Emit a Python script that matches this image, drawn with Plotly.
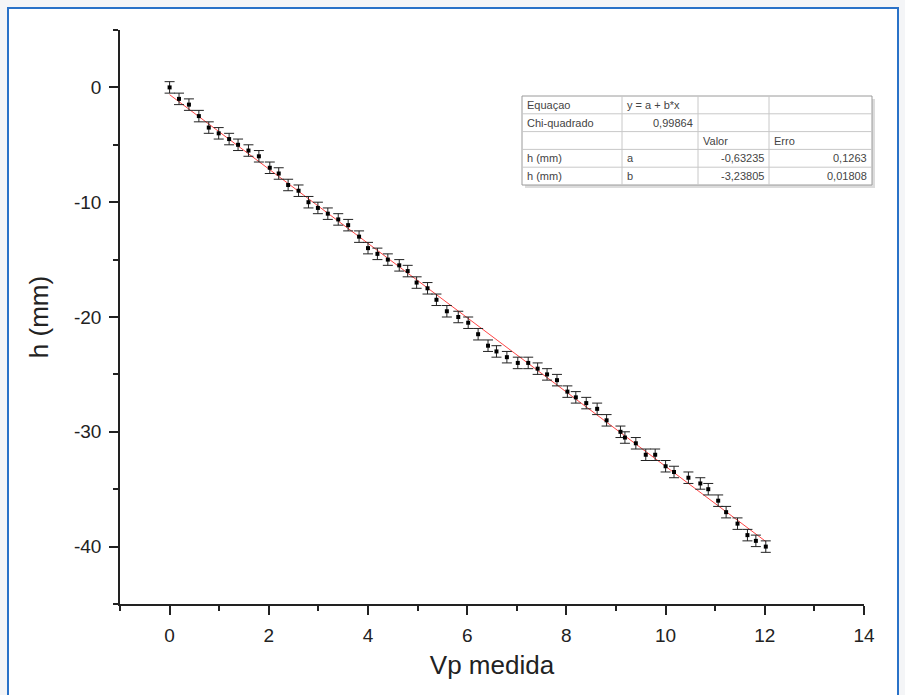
import plotly.graph_objects as go

# ---- data ----
vp_medida = [0, 0.19, 0.39, 0.59, 0.79, 0.99, 1.2, 1.38, 1.59, 1.8, 2.02, 2.2, 2.39, 2.6, 2.8,
             2.99, 3.19, 3.4, 3.6, 3.82, 4.0, 4.19, 4.4, 4.63, 4.8, 4.98, 5.2, 5.38, 5.59, 5.82,
             6.02, 6.22, 6.42, 6.59, 6.8, 7.02, 7.23, 7.42, 7.61, 7.81, 8.02, 8.19, 8.4, 8.62,
             8.81, 9.09, 9.18, 9.4, 9.6, 9.79, 10.0, 10.17, 10.46, 10.7, 10.86, 11.06, 11.22,
             11.45, 11.65, 11.82, 12.02]
h_mm = [0, -1, -1.5, -2.5, -3.5, -4, -4.5, -5, -5.5, -6, -7, -7.5, -8.5, -9, -10, -10.5, -11,
        -11.5, -12, -13, -14, -14.5, -15, -15.5, -16, -17, -17.5, -18.5, -19.5, -20, -20.5,
        -21.5, -22.5, -23, -23.5, -24, -24, -24.5, -25, -25.5, -26.5, -27, -27.5, -28, -29,
        -30, -30.5, -31, -32, -32, -33, -33.5, -34, -34.5, -35, -36, -37, -38, -39, -39.5, -40]
h_err = [0.5] * len(h_mm)

fit_a = -0.63235
fit_b = -3.23805
fit_x = [min(vp_medida), max(vp_medida)]
fit_y = [fit_a + fit_b * v for v in fit_x]

x_tick_vals = [0, 2, 4, 6, 8, 10, 12, 14]
x_tick_text = ["0", "2", "4", "6", "8", "10", "12", "14"]
y_tick_vals = [0, -10, -20, -30, -40]
y_tick_text = ["0", "-10", "-20", "-30", "-40"]

table_rows = [
    ["Equaçao", "y = a + b*x", "", ""],
    ["Chi-quadrado", "0,99864", "", ""],
    ["", "", "Valor", "Erro"],
    ["h (mm)", "a", "-0,63235", "0,1263"],
    ["h (mm)", "b", "-3,23805", "0,01808"],
]
table_align = [
    ["left", "left", "left", "left"],
    ["left", "right", "left", "left"],
    ["left", "left", "left", "left"],
    ["left", "left", "right", "right"],
    ["left", "left", "right", "right"],
]

FONT = "Liberation Sans, Arial, sans-serif"
W, H = 905, 695
ML, MR, MT, MB = 120, 41, 30, 91
PW, PH = W - ML - MR, H - MT - MB


def px(xp):
    return (xp - ML) / PW


def py(yp):
    return (H - MB - yp) / PH


fig = go.Figure()
fig.add_trace(go.Scatter(
    x=fit_x, y=fit_y, mode="lines",
    line=dict(color="rgb(255,70,70)", width=1), showlegend=False, hoverinfo="skip"))
fig.add_trace(go.Scatter(
    x=vp_medida, y=h_mm, mode="markers",
    marker=dict(symbol="square", size=4, color="black"),
    error_y=dict(type="data", array=h_err, visible=True, color="#222", thickness=1, width=5),
    showlegend=False))

shapes = []
annotations = []
# outer blue frame + white page
shapes.append(dict(type="rect", xref="paper", yref="paper",
                   x0=px(8), x1=px(898), y0=py(720), y1=py(8),
                   line=dict(color="#2a72c8", width=2), fillcolor="white", layer="below"))

# table
cols = [522, 622, 698, 769, 872]
rows = [96, 113.8, 131.6, 149.4, 167.2, 185]
shapes.append(dict(type="rect", xref="paper", yref="paper",
                   x0=px(cols[0] + 3), x1=px(cols[-1] + 3), y0=py(rows[-1] + 3), y1=py(rows[0] + 3),
                   line=dict(width=0), fillcolor="#dcdcdc"))
shapes.append(dict(type="rect", xref="paper", yref="paper",
                   x0=px(cols[0]), x1=px(cols[-1]), y0=py(rows[-1]), y1=py(rows[0]),
                   line=dict(color="#9a9a9a", width=1), fillcolor="white"))
for c in cols[1:-1]:
    shapes.append(dict(type="line", xref="paper", yref="paper",
                       x0=px(c), x1=px(c), y0=py(rows[0]), y1=py(rows[-1]),
                       line=dict(color="#c8c8c8", width=1)))
for r in rows[1:-1]:
    shapes.append(dict(type="line", xref="paper", yref="paper",
                       x0=px(cols[0]), x1=px(cols[-1]), y0=py(r), y1=py(r),
                       line=dict(color="#c8c8c8", width=1)))
for i, row in enumerate(table_rows):
    yc = (rows[i] + rows[i + 1]) / 2
    for j, txt in enumerate(row):
        if not txt:
            continue
        al = table_align[i][j]
        if al == "left":
            xa, anc = cols[j] + 3, "left"
        else:
            xa, anc = cols[j + 1] - 3, "right"
        annotations.append(dict(xref="paper", yref="paper", x=px(xa), y=py(yc),
                                text=txt, showarrow=False, xanchor=anc, yanchor="middle",
                                font=dict(family=FONT, size=11, color="#444444")))

AX = "#222222"
fig.update_layout(
    width=W, height=H,
    margin=dict(l=ML, r=MR, t=MT, b=MB),
    paper_bgcolor="#f4f5f7", plot_bgcolor="rgba(0,0,0,0)",
    shapes=shapes, annotations=annotations,
    font=dict(family=FONT, color="black"),
    xaxis=dict(range=[-1, 14], tickvals=x_tick_vals, ticktext=x_tick_text,
               showgrid=False, zeroline=False,
               showline=True, linecolor=AX, linewidth=1.5,
               ticks="outside", ticklen=9, tickwidth=1.5, tickcolor=AX,
               ticklabelstandoff=4,
               minor=dict(dtick=1, tick0=0, ticks="outside", ticklen=5, tickwidth=1.5,
                          tickcolor=AX, showgrid=False),
               tickfont=dict(size=19, family=FONT, color=AX),
               title=dict(text="Vp medida", font=dict(size=26, family=FONT, color=AX),
                          standoff=11)),
    yaxis=dict(range=[-45, 5], tickvals=y_tick_vals, ticktext=y_tick_text,
               showgrid=False, zeroline=False,
               showline=True, linecolor=AX, linewidth=1.5,
               ticks="outside", ticklen=9, tickwidth=1.5, tickcolor=AX,
               ticklabelstandoff=4,
               minor=dict(dtick=5, tick0=0, ticks="outside", ticklen=5, tickwidth=1.5,
                          tickcolor=AX, showgrid=False),
               tickfont=dict(size=19, family=FONT, color=AX),
               title=dict(text="h (mm)", font=dict(size=26, family=FONT, color=AX),
                          standoff=18)),
)

fig.write_html("out.html")
